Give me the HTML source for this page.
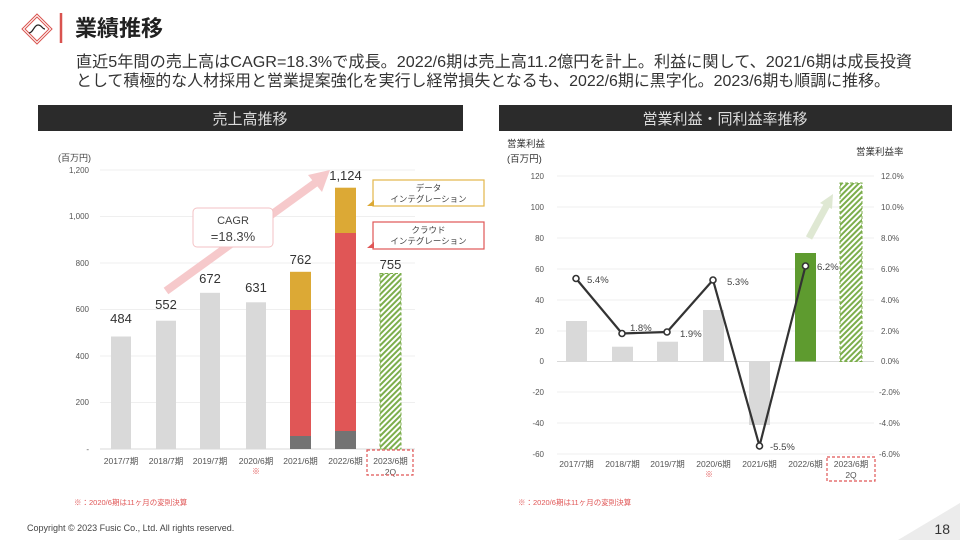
<!DOCTYPE html>
<html><head><meta charset="utf-8"><style>
html,body{margin:0;padding:0;background:#fff;}
svg{display:block;}
text{font-family:"Liberation Sans","Noto Sans CJK JP",sans-serif;}
</style></head><body>
<svg width="960" height="540" viewBox="0 0 960 540" xmlns="http://www.w3.org/2000/svg">
<defs>
<pattern id="hatch" width="4" height="4" patternUnits="userSpaceOnUse" patternTransform="rotate(45)">
<rect width="4" height="4" fill="#ffffff"/><rect width="2" height="4" fill="#7cae4c"/>
</pattern>
</defs>
<rect width="960" height="540" fill="#fff"/>

<!-- Logo -->
<g fill="none" stroke="#d9534f" stroke-width="1">
<polygon points="37,14 52,29 37,44 22,29"/>
<polygon points="37,17 49,29 37,41 25,29"/>
</g>
<path d="M29,33 C33,33 34,25 38,25 C42,25 42,29 45,29" fill="none" stroke="#222" stroke-width="1.2"/>
<line x1="61" y1="13" x2="61" y2="43" stroke="#d9534f" stroke-width="2.5"/>
<text x="75" y="36" font-size="22" font-weight="bold" fill="#222">業績推移</text>

<!-- Description -->
<text x="76" y="67" font-size="16" fill="#333" textLength="836" lengthAdjust="spacingAndGlyphs">直近5年間の売上高はCAGR=18.3%で成長。2022/6期は売上高11.2億円を計上。利益に関して、2021/6期は成長投資</text>
<text x="76" y="86" font-size="16" fill="#333" textLength="814" lengthAdjust="spacingAndGlyphs">として積極的な人材採用と営業提案強化を実行し経常損失となるも、2022/6期に黒字化。2023/6期も順調に推移。</text>

<!-- Header bars -->
<rect x="38" y="105" width="425" height="26" fill="#2b2b2b"/>
<text x="250" y="124" font-size="15" fill="#dcdcdc" text-anchor="middle">売上高推移</text>
<rect x="499" y="105" width="453" height="26" fill="#2b2b2b"/>
<text x="725" y="124" font-size="15" fill="#dcdcdc" text-anchor="middle">営業利益・同利益率推移</text>

<!-- LEFT CHART -->
<text x="58" y="161" font-size="9" fill="#444">(百万円)</text>
<g stroke="#efefef" stroke-width="1">
<line x1="100" y1="170" x2="415" y2="170"/>
<line x1="100" y1="216.5" x2="415" y2="216.5"/>
<line x1="100" y1="263" x2="415" y2="263"/>
<line x1="100" y1="309.5" x2="415" y2="309.5"/>
<line x1="100" y1="356" x2="415" y2="356"/>
<line x1="100" y1="402.5" x2="415" y2="402.5"/>
</g>
<line x1="100" y1="449" x2="415" y2="449" stroke="#d9d9d9" stroke-width="1"/>
<g font-size="8" fill="#555" text-anchor="end">
<text x="89" y="173">1,200</text>
<text x="89" y="219">1,000</text>
<text x="89" y="266">800</text>
<text x="89" y="312">600</text>
<text x="89" y="359">400</text>
<text x="89" y="405">200</text>
<text x="89" y="452">-</text>
</g>

<!-- CAGR arrow -->
<line x1="166" y1="291" x2="318" y2="181" stroke="#f6c9cb" stroke-width="8"/>
<polygon points="330,170 308,175 322,192" fill="#f6c9cb"/>
<rect x="193" y="208" width="80" height="39" rx="4" fill="#fff" stroke="#f3c2c4" stroke-width="1"/>
<text x="233" y="224" font-size="11" fill="#444" text-anchor="middle">CAGR</text>
<text x="233" y="241" font-size="13" fill="#444" text-anchor="middle">=18.3%</text>

<!-- bars -->
<rect x="111" y="336.5" width="20" height="112.5" fill="#d9d9d9"/>
<rect x="156" y="320.7" width="20" height="128.3" fill="#d9d9d9"/>
<rect x="200" y="292.8" width="20" height="156.2" fill="#d9d9d9"/>
<rect x="246" y="302.3" width="20" height="146.7" fill="#d9d9d9"/>
<rect x="290" y="271.8" width="21" height="38.2" fill="#dca935"/>
<rect x="290" y="310" width="21" height="126" fill="#e05656"/>
<rect x="290" y="436" width="21" height="13" fill="#737373"/>
<rect x="335" y="187.7" width="21" height="45.3" fill="#dca935"/>
<rect x="335" y="233" width="21" height="198" fill="#e05656"/>
<rect x="335" y="431" width="21" height="18" fill="#737373"/>
<rect x="380" y="273.5" width="21" height="175.5" fill="url(#hatch)" stroke="#7cae4c" stroke-width="1" stroke-dasharray="3,2"/>

<g font-size="13" fill="#333" text-anchor="middle">
<text x="121" y="323">484</text>
<text x="166" y="309">552</text>
<text x="210" y="283">672</text>
<text x="256" y="292">631</text>
<text x="300.5" y="264">762</text>
<text x="345.5" y="180">1,124</text>
<text x="390.5" y="269">755</text>
</g>

<!-- callouts -->
<rect x="373" y="180" width="111" height="26" fill="#fff" stroke="#e3b64a" stroke-width="1.2"/>
<polygon points="367,206 374,200 374,206" fill="#dca935"/>
<text x="428.5" y="191" font-size="8.5" fill="#444" text-anchor="middle">データ</text>
<text x="428.5" y="202" font-size="8.5" fill="#444" text-anchor="middle">インテグレーション</text>
<rect x="373" y="222" width="111" height="27" fill="#fff" stroke="#e05656" stroke-width="1.2"/>
<polygon points="367,248 374,242 374,248" fill="#e05656"/>
<text x="428.5" y="233" font-size="8.5" fill="#444" text-anchor="middle">クラウド</text>
<text x="428.5" y="244" font-size="8.5" fill="#444" text-anchor="middle">インテグレーション</text>

<g font-size="8.5" fill="#555" text-anchor="middle">
<text x="121" y="464">2017/7期</text>
<text x="166" y="464">2018/7期</text>
<text x="210" y="464">2019/7期</text>
<text x="256" y="464">2020/6期</text>
<text x="300.5" y="464">2021/6期</text>
<text x="345.5" y="464">2022/6期</text>
<text x="390.5" y="464">2023/6期</text>
<text x="390.5" y="475">2Q</text>
</g>
<text x="256" y="474" font-size="8" fill="#e05656" text-anchor="middle">※</text>
<rect x="367" y="450" width="46" height="25" fill="none" stroke="#e05656" stroke-width="1.2" stroke-dasharray="3,2"/>
<text x="74" y="505" font-size="7.5" fill="#e05656">※：2020/6期は11ヶ月の変則決算</text>

<!-- RIGHT CHART -->
<text x="507" y="147" font-size="9.5" fill="#333">営業利益</text>
<text x="507" y="162" font-size="9.5" fill="#333">(百万円)</text>
<text x="856" y="155" font-size="9.5" fill="#333">営業利益率</text>
<g stroke="#efefef" stroke-width="1">
<line x1="557" y1="176" x2="874" y2="176"/>
<line x1="557" y1="207" x2="874" y2="207"/>
<line x1="557" y1="238" x2="874" y2="238"/>
<line x1="557" y1="269" x2="874" y2="269"/>
<line x1="557" y1="300" x2="874" y2="300"/>
<line x1="557" y1="331" x2="874" y2="331"/>
<line x1="557" y1="392" x2="874" y2="392"/>
<line x1="557" y1="423" x2="874" y2="423"/>
<line x1="557" y1="454" x2="874" y2="454"/>
</g>
<line x1="557" y1="361.5" x2="874" y2="361.5" stroke="#d9d9d9" stroke-width="1"/>
<g font-size="8" fill="#555" text-anchor="end">
<text x="544" y="179">120</text>
<text x="544" y="210">100</text>
<text x="544" y="241">80</text>
<text x="544" y="272">60</text>
<text x="544" y="303">40</text>
<text x="544" y="334">20</text>
<text x="544" y="364">0</text>
<text x="544" y="395">-20</text>
<text x="544" y="426">-40</text>
<text x="544" y="457">-60</text>
</g>
<g font-size="8" fill="#555" text-anchor="start">
<text x="881" y="179">12.0%</text>
<text x="881" y="210">10.0%</text>
<text x="881" y="241">8.0%</text>
<text x="881" y="272">6.0%</text>
<text x="881" y="303">4.0%</text>
<text x="881" y="334">2.0%</text>
<text x="881" y="364">0.0%</text>
<text x="879" y="395">-2.0%</text>
<text x="879" y="426">-4.0%</text>
<text x="879" y="457">-6.0%</text>
</g>

<!-- green arrow -->
<line x1="809" y1="238" x2="827" y2="205" stroke="#dfe8d3" stroke-width="7"/>
<polygon points="833,194 820,203 832,209" fill="#dfe8d3"/>

<!-- right bars -->
<rect x="566" y="321" width="21" height="40.5" fill="#d9d9d9"/>
<rect x="612" y="346.7" width="21" height="14.8" fill="#d9d9d9"/>
<rect x="657" y="341.7" width="21" height="19.8" fill="#d9d9d9"/>
<rect x="703" y="310" width="21" height="51.5" fill="#d9d9d9"/>
<rect x="749" y="361.5" width="21" height="63.5" fill="#d9d9d9"/>
<rect x="795" y="253" width="21" height="108.5" fill="#5e9b2f"/>
<rect x="840" y="183" width="22" height="178.5" fill="url(#hatch)" stroke="#7cae4c" stroke-width="1" stroke-dasharray="3,2"/>

<!-- line -->
<polyline points="576,278.5 622,333.5 667,332 713,280 759.5,446 805.5,266" fill="none" stroke="#333" stroke-width="2.2"/>
<g fill="#fff" stroke="#333" stroke-width="1.6">
<circle cx="576" cy="278.5" r="3"/>
<circle cx="622" cy="333.5" r="3"/>
<circle cx="667" cy="332" r="3"/>
<circle cx="713" cy="280" r="3"/>
<circle cx="759.5" cy="446" r="3"/>
<circle cx="805.5" cy="266" r="3"/>
</g>
<g font-size="9.5" fill="#444">
<text x="587" y="283">5.4%</text>
<text x="630" y="331">1.8%</text>
<text x="680" y="337">1.9%</text>
<text x="727" y="285">5.3%</text>
<text x="770" y="450">-5.5%</text>
<text x="817" y="270">6.2%</text>
</g>

<g font-size="8.5" fill="#555" text-anchor="middle">
<text x="576.5" y="467">2017/7期</text>
<text x="622.5" y="467">2018/7期</text>
<text x="667.5" y="467">2019/7期</text>
<text x="713.5" y="467">2020/6期</text>
<text x="759.5" y="467">2021/6期</text>
<text x="805.5" y="467">2022/6期</text>
<text x="851" y="467">2023/6期</text>
<text x="851" y="478">2Q</text>
</g>
<text x="709" y="477" font-size="8" fill="#e05656" text-anchor="middle">※</text>
<rect x="827" y="457" width="48" height="24" fill="none" stroke="#e05656" stroke-width="1.2" stroke-dasharray="3,2"/>
<text x="518" y="505" font-size="7.5" fill="#e05656">※：2020/6期は11ヶ月の変則決算</text>

<!-- footer -->
<text x="27" y="531" font-size="9" fill="#444">Copyright © 2023 Fusic Co., Ltd. All rights reserved.</text>
<polygon points="898,540 960,540 960,503" fill="#ececec"/>
<text x="950" y="534" font-size="14" fill="#333" text-anchor="end">18</text>
</svg>
</body></html>
